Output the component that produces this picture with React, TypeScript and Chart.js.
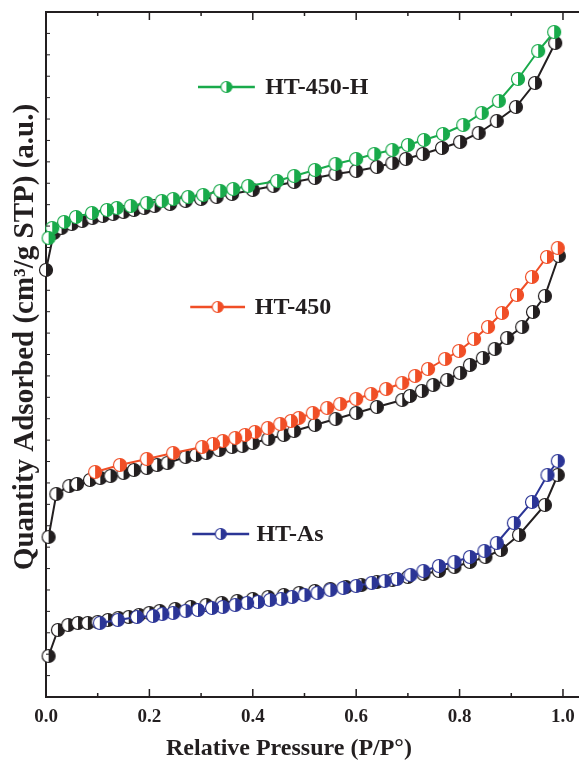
import React, { useEffect, useRef } from "react";
import { Chart, registerables } from "chart.js";
Chart.register(...registerables);

// Relative pressure (P/P0) and quantity adsorbed (arbitrary units, stacked curves)
const h450hAdsP = [0.0, 0.015, 0.03, 0.05, 0.07, 0.09, 0.11, 0.13, 0.15, 0.17, 0.19, 0.21, 0.24, 0.27, 0.3, 0.33, 0.36, 0.4, 0.44, 0.48, 0.52, 0.56, 0.6, 0.64, 0.67, 0.696, 0.729, 0.766, 0.801, 0.837, 0.872, 0.909, 0.946, 0.985];
const h450hAdsQ = [427, 464, 469, 473, 476, 479, 481, 483, 485, 487, 489, 491, 493, 496, 498, 500, 503, 507, 511, 515, 519, 523, 526, 530, 534, 538, 543, 549, 555, 564, 576, 590, 614, 654];
const h450hDesP = [0.983, 0.952, 0.913, 0.876, 0.843, 0.807, 0.768, 0.731, 0.7, 0.67, 0.635, 0.6, 0.56, 0.52, 0.48, 0.447, 0.391, 0.362, 0.337, 0.304, 0.275, 0.246, 0.224, 0.195, 0.164, 0.137, 0.118, 0.089, 0.058, 0.035, 0.012, 0.005];
const h450hDesQ = [665, 646, 618, 596, 584, 572, 563, 557, 552, 547, 543, 538, 533, 527, 521, 516, 511, 508, 506, 502, 500, 498, 496, 494, 491, 489, 487, 484, 480, 475, 469, 459];

const h450AdsP = [0.005, 0.02, 0.045, 0.06, 0.085, 0.105, 0.125, 0.15, 0.17, 0.195, 0.215, 0.235, 0.27, 0.29, 0.31, 0.335, 0.36, 0.38, 0.4, 0.43, 0.46, 0.48, 0.52, 0.56, 0.6, 0.64, 0.689, 0.704, 0.727, 0.749, 0.776, 0.801, 0.82, 0.845, 0.868, 0.892, 0.921, 0.942, 0.965, 0.992];
const h450AdsQ = [160, 203, 211, 213, 217, 219, 221, 224, 227, 229, 232, 234, 240, 242, 244, 247, 250, 251, 254, 258, 262, 266, 272, 278, 284, 290, 297, 301, 306, 312, 317, 324, 332, 339, 348, 359, 370, 385, 401, 441];
const h450DesP = [0.99, 0.969, 0.94, 0.911, 0.882, 0.855, 0.828, 0.799, 0.772, 0.739, 0.714, 0.689, 0.658, 0.629, 0.6, 0.569, 0.544, 0.516, 0.489, 0.474, 0.453, 0.429, 0.404, 0.385, 0.366, 0.342, 0.323, 0.302, 0.246, 0.195, 0.143, 0.095];
const h450DesQ = [449, 440, 420, 402, 384, 370, 358, 346, 338, 328, 321, 314, 308, 303, 298, 293, 289, 284, 279, 276, 273, 269, 265, 262, 259, 256, 253, 250, 244, 238, 232, 225];

const asAdsP = [0.005, 0.023, 0.043, 0.062, 0.081, 0.1, 0.12, 0.14, 0.16, 0.18, 0.2, 0.22, 0.25, 0.28, 0.31, 0.34, 0.37, 0.4, 0.43, 0.46, 0.49, 0.52, 0.55, 0.58, 0.61, 0.64, 0.67, 0.7, 0.73, 0.76, 0.79, 0.82, 0.85, 0.88, 0.915, 0.965, 0.99];
const asAdsQ = [41, 67, 72, 74, 74, 75, 77, 79, 80, 82, 84, 86, 88, 90, 92, 94, 96, 98, 100, 102, 104, 106, 108, 110, 112, 115, 117, 120, 123, 126, 130, 135, 140, 147, 162, 192, 222];
const asDesP = [0.99, 0.97, 0.94, 0.905, 0.872, 0.848, 0.82, 0.79, 0.76, 0.73, 0.705, 0.679, 0.655, 0.63, 0.6, 0.575, 0.55, 0.525, 0.5, 0.476, 0.455, 0.433, 0.41, 0.389, 0.366, 0.342, 0.321, 0.294, 0.27, 0.246, 0.225, 0.207, 0.176, 0.139, 0.104];
const asDesQ = [236, 222, 195, 174, 154, 146, 140, 135, 131, 126, 122, 118, 116, 114, 111, 109, 107, 104, 102, 100, 98, 97, 95, 94, 92, 90, 89, 87, 86, 84, 83, 81, 80, 77, 74];

const xTickValues = [0, 0.2, 0.4, 0.6, 0.8, 1.0];
const seriesNames = ["HT-450-H", "HT-450", "HT-As"];
const yTitle = "Quantity Adsorbed (cm\u00B3/g STP) (a.u.)";
const xTitle = "Relative Pressure (P/P\u00B0)";
// legend anchor points in data units: [lineStartP, lineEndP, textP, quantity]
const legendAnchors = [
  [0.294, 0.404, 0.424, 610],
  [0.279, 0.385, 0.404, 390],
  [0.283, 0.393, 0.407, 163],
];

const BLACK = "#231f20";
const GREEN = "#19aa4b";
const ORANGE = "#f04e26";
const BLUE = "#2b3596";
const SERIF = "'Liberation Serif', 'Times New Roman', serif";

function makeMarker(color: string, r: number, lw: number) {
  const size = Math.ceil(2 * (r + lw)) + 2;
  const c = document.createElement("canvas");
  c.width = size;
  c.height = size;
  const g = c.getContext("2d")!;
  const cx = size / 2, cy = size / 2;
  g.beginPath();
  g.arc(cx, cy, r, 0, Math.PI * 2);
  g.fillStyle = "#ffffff";
  g.fill();
  g.beginPath();
  g.moveTo(cx, cy - r);
  g.arc(cx, cy, r, -Math.PI / 2, Math.PI / 2);
  g.closePath();
  g.fillStyle = color;
  g.fill();
  g.beginPath();
  g.arc(cx, cy, r, 0, Math.PI * 2);
  g.lineWidth = lw;
  g.strokeStyle = color;
  g.stroke();
  return c;
}

function pts(xs: number[], ys: number[]) {
  return xs.map((x, i) => ({ x, y: ys[i] }));
}

export default function App() {
  const ref = useRef<HTMLCanvasElement>(null);
  useEffect(() => {
    document.body.style.margin = "0";
    const mBlack = makeMarker(BLACK, 6.5, 1.2);
    const mGreen = makeMarker(GREEN, 6.5, 1.2);
    const mOrange = makeMarker(ORANGE, 6.5, 1.2);
    const mBlue = makeMarker(BLUE, 6.5, 1.2);
    const legMarkers = [makeMarker(GREEN, 5.5, 1.2), makeMarker(ORANGE, 5.5, 1.2), makeMarker(BLUE, 5.5, 1.2)];
    const legColors = [GREEN, ORANGE, BLUE];

    const ds = (data: any, color: string, marker: HTMLCanvasElement) => ({
      data,
      showLine: true,
      borderColor: color,
      borderWidth: 2,
      pointStyle: marker,
      pointRadius: 6,
      tension: 0,
      clip: false,
    });

    const framePlugin = {
      id: "frame",
      afterDatasetsDraw(chart: any) {
        const { ctx, chartArea, scales } = chart;
        const x = scales.x, y = scales.y;
        ctx.save();
        ctx.strokeStyle = BLACK;
        ctx.lineWidth = 2;
        ctx.beginPath();
        ctx.moveTo(chartArea.left, chartArea.top);
        ctx.lineTo(chartArea.right, chartArea.top);
        ctx.stroke();
        ctx.lineWidth = 1.5;
        for (let i = 0; i <= 10; i++) {
          const v = i / 10;
          const px = x.getPixelForValue(v);
          const len = i % 2 === 0 ? 8 : 4;
          ctx.beginPath();
          ctx.moveTo(px, chartArea.bottom);
          ctx.lineTo(px, chartArea.bottom - len);
          ctx.moveTo(px, chartArea.top);
          ctx.lineTo(px, chartArea.top + len);
          ctx.stroke();
        }
        ctx.lineWidth = 1;
        const step = 685 / 32;
        for (let q = step; q < 685; q += step) {
          const py = y.getPixelForValue(q);
          ctx.beginPath();
          ctx.moveTo(chartArea.left, py);
          ctx.lineTo(chartArea.left + 4, py);
          ctx.stroke();
        }
        // legend labels
        legendAnchors.forEach((a, i) => {
          const x1 = x.getPixelForValue(a[0]);
          const x2 = x.getPixelForValue(a[1]);
          const tx = x.getPixelForValue(a[2]);
          const py = y.getPixelForValue(a[3]);
          ctx.strokeStyle = legColors[i];
          ctx.lineWidth = 2.5;
          ctx.beginPath();
          ctx.moveTo(x1, py);
          ctx.lineTo(x2, py);
          ctx.stroke();
          const m = legMarkers[i];
          ctx.drawImage(m, (x1 + x2) / 2 - m.width / 2, py - m.height / 2);
          ctx.fillStyle = BLACK;
          ctx.font = `bold 24px ${SERIF}`;
          ctx.textBaseline = "middle";
          ctx.textAlign = "left";
          ctx.fillText(seriesNames[i], tx, py + 1);
        });
        // x-axis title
        ctx.fillStyle = BLACK;
        ctx.font = `bold 24px ${SERIF}`;
        ctx.textAlign = "center";
        ctx.textBaseline = "middle";
        ctx.fillText(xTitle, x.getPixelForValue(0.47), chartArea.bottom + 52);
        // y-axis title
        ctx.translate(26, y.getPixelForValue(360));
        ctx.rotate(-Math.PI / 2);
        ctx.font = `bold 29px ${SERIF}`;
        ctx.textAlign = "center";
        ctx.textBaseline = "middle";
        ctx.fillText(yTitle, 0, 0);
        ctx.restore();
      },
    };

    const chart = new Chart(ref.current!, {
      type: "scatter",
      data: {
        datasets: [
          ds(pts(h450hDesP, h450hDesQ), GREEN, mGreen),
          ds(pts(h450DesP, h450DesQ), ORANGE, mOrange),
          ds(pts(asDesP, asDesQ), BLUE, mBlue),
          ds(pts(h450hAdsP, h450hAdsQ), BLACK, mBlack),
          ds(pts(h450AdsP, h450AdsQ), BLACK, mBlack),
          ds(pts(asAdsP, asAdsQ), BLACK, mBlack),
        ] as any,
      },
      options: {
        responsive: false,
        animation: false,
        layout: { autoPadding: false, padding: { top: 12, right: 0, left: 0, bottom: 0 } },
        plugins: { legend: { display: false }, tooltip: { enabled: false } },
        scales: {
          x: {
            type: "linear",
            min: 0,
            max: 1.031,
            grid: { display: false, drawTicks: false },
            border: { display: true, color: BLACK, width: 2 },
            afterBuildTicks: (s: any) => {
              s.ticks = xTickValues.map((v) => ({ value: v }));
            },
            afterFit: (s: any) => {
              s.height = 68;
              s.paddingLeft = 0;
              s.paddingRight = 0;
            },
            ticks: {
              padding: 9,
              color: BLACK,
              font: { family: SERIF, size: 19, weight: "bold" },
              callback: (v: any) => Number(v).toFixed(1),
              maxRotation: 0,
              autoSkip: false,
            },
            title: { display: false },
          },
          y: {
            type: "linear",
            min: 0,
            max: 685,
            grid: { display: false, drawTicks: false },
            border: { display: true, color: BLACK, width: 2 },
            ticks: { display: false },
            afterFit: (s: any) => {
              s.width = 46;
              s.paddingTop = 0;
              s.paddingBottom = 0;
            },
            title: { display: false },
          },
        },
      } as any,
      plugins: [framePlugin],
    });
    return () => chart.destroy();
  }, []);
  return (
    <div style={{ width: 579, height: 765 }}>
      <canvas ref={ref} width={579} height={765} />
    </div>
  );
}
